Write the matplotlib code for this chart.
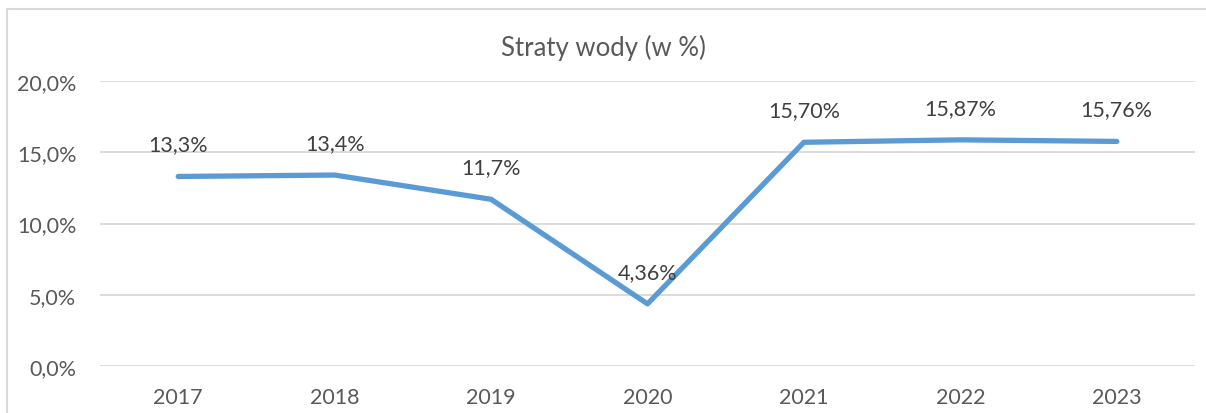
import matplotlib
matplotlib.use("Agg")
import matplotlib.pyplot as plt
from matplotlib.patches import Rectangle

years = ["2017", "2018", "2019", "2020", "2021", "2022", "2023"]
values = [13.3, 13.4, 11.7, 4.36, 15.70, 15.87, 15.76]
labels = ["13,3%", "13,4%", "11,7%", "4,36%", "15,70%", "15,87%", "15,76%"]
yticks = [0, 5, 10, 15, 20]
yticklabels = ["0,0%", "5,0%", "10,0%", "15,0%", "20,0%"]
title = "Straty wody (w %)"

plt.rcParams['font.family'] = ['Lato', 'DejaVu Sans']
W, H = 1206, 414
fig = plt.figure(figsize=(W/100, H/100), dpi=100)
fig.patches.append(Rectangle((7/W, -0.1), 1.2, (414-10)/H + 0.1, transform=fig.transFigure,
                             fill=False, edgecolor="#D9D9D9", linewidth=1.5))
ax = fig.add_axes([100/W, 1-367/H, (1195-100)/W, (367-82)/H])
x = list(range(len(years)))
ax.plot(x, values, color="#5B9BD5", linewidth=3.8, solid_capstyle="round", solid_joinstyle="round", zorder=3)
for xi, v, lab in zip(x, values, labels):
    ax.annotate(lab, (xi, v), xytext=(0, 23), textcoords="offset points", ha="center", va="center",
                fontsize=15.5, color="#404040")
ax.set_xlim(-0.5, len(years) - 0.5)
ax.set_ylim(0, 20)
ax.set_yticks(yticks)
ax.set_yticklabels(yticklabels)
ax.set_xticks(x)
ax.set_xticklabels(years)
ax.tick_params(axis='both', length=0, labelsize=15.5, labelcolor="#595959")
ax.tick_params(axis='y', pad=17)
ax.tick_params(axis='x', pad=15)
ax.grid(axis='y', color="#D9D9D9", linewidth=1.3)
ax.set_axisbelow(True)
for s in ax.spines.values():
    s.set_visible(False)
fig.text(0.5, 1-48/H, title, ha="center", va="center", fontsize=18.5, color="#595959")
fig.savefig("out.png", dpi=100)
